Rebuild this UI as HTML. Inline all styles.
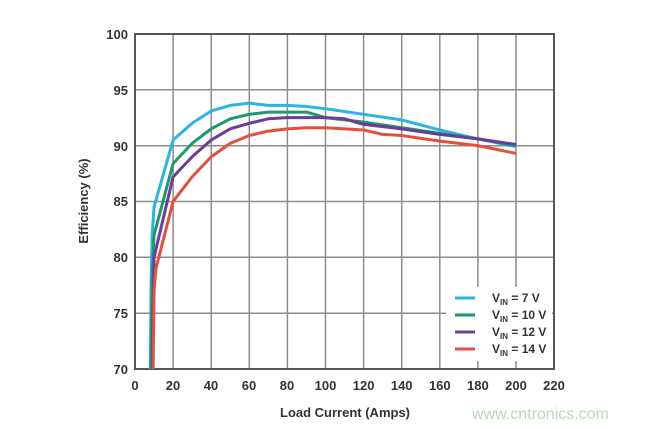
<!DOCTYPE html>
<html><head><meta charset="utf-8"><style>
html,body{margin:0;padding:0;background:#fff;}
svg{display:block;font-family:"Liberation Sans",sans-serif;}
</style></head><body>
<svg width="654" height="429" viewBox="0 0 654 429" xmlns="http://www.w3.org/2000/svg">
<rect width="654" height="429" fill="#fff"/>
<g stroke="#8c8c8c" stroke-width="1.5">
<line x1="173.1" y1="34" x2="173.1" y2="369"/><line x1="211.2" y1="34" x2="211.2" y2="369"/>
<line x1="249.3" y1="34" x2="249.3" y2="369"/><line x1="287.4" y1="34" x2="287.4" y2="369"/>
<line x1="325.5" y1="34" x2="325.5" y2="369"/><line x1="363.6" y1="34" x2="363.6" y2="369"/>
<line x1="401.7" y1="34" x2="401.7" y2="369"/><line x1="439.8" y1="34" x2="439.8" y2="369"/>
<line x1="477.9" y1="34" x2="477.9" y2="369"/><line x1="516" y1="34" x2="516" y2="369"/>
<line x1="135" y1="89.8" x2="554" y2="89.8"/><line x1="135" y1="145.7" x2="554" y2="145.7"/>
<line x1="135" y1="201.5" x2="554" y2="201.5"/><line x1="135" y1="257.3" x2="554" y2="257.3"/>
<line x1="135" y1="313.2" x2="554" y2="313.2"/>
</g>
<rect x="135" y="34" width="419" height="335" fill="none" stroke="#555" stroke-width="2"/>
<rect x="446" y="287" width="106" height="74" fill="#fff"/>
<g transform="matrix(1.905 0 0 -11.17 135 1150.9)" fill="none" stroke-width="3" stroke-linejoin="round">
<polyline vector-effect="non-scaling-stroke" stroke="#2bb5e0" points="8,70 8.5,78 9,82 10,84.5 20,90.5 30,92 40,93.1 50,93.6 60,93.8 70,93.6 80,93.6 90,93.5 100,93.3 120,92.8 140,92.3 160,91.4 180,90.6 200,89.9"/>
<polyline vector-effect="non-scaling-stroke" stroke="#1a9a6e" points="8.5,70 9,78 10,82 20,88.4 30,90.2 40,91.5 50,92.4 60,92.8 70,93 80,93 90,93 100,92.5 120,92.1 140,91.6 160,91.1 180,90.6 200,90"/>
<polyline vector-effect="non-scaling-stroke" stroke="#6a3d9a" points="9,70 10,80 20,87.2 30,89 40,90.5 50,91.5 60,92 70,92.4 80,92.5 90,92.5 100,92.5 110,92.4 120,91.9 140,91.5 160,91 180,90.6 200,90.1"/>
<polyline vector-effect="non-scaling-stroke" stroke="#e4503a" points="9.5,70 10,77 11,79 20,85 30,87.2 40,89 50,90.2 60,90.9 70,91.3 80,91.5 90,91.6 100,91.6 120,91.4 130,91 140,90.9 160,90.4 180,90 200,89.3"/>
</g>
<g stroke-width="3">
<line x1="455" y1="298" x2="475" y2="298" stroke="#2bb5e0"/>
<line x1="455" y1="315" x2="475" y2="315" stroke="#1a9a6e"/>
<line x1="455" y1="332" x2="475" y2="332" stroke="#6a3d9a"/>
<line x1="455" y1="349" x2="475" y2="349" stroke="#e4503a"/>
</g>
<g font-size="12" font-weight="bold" fill="#333">
<text x="492" y="302">V<tspan font-size="8" dy="3">IN</tspan><tspan dy="-3"> = 7 V</tspan></text>
<text x="492" y="319">V<tspan font-size="8" dy="3">IN</tspan><tspan dy="-3"> = 10 V</tspan></text>
<text x="492" y="336">V<tspan font-size="8" dy="3">IN</tspan><tspan dy="-3"> = 12 V</tspan></text>
<text x="492" y="353">V<tspan font-size="8" dy="3">IN</tspan><tspan dy="-3"> = 14 V</tspan></text>
</g>
<g font-size="13" font-weight="bold" fill="#333" text-anchor="end">
<text x="128" y="39">100</text><text x="128" y="95">95</text><text x="128" y="151">90</text>
<text x="128" y="206">85</text><text x="128" y="262">80</text><text x="128" y="318">75</text><text x="128" y="374">70</text>
</g>
<g font-size="13" font-weight="bold" fill="#333" text-anchor="middle">
<text x="135" y="390">0</text><text x="173" y="390">20</text><text x="211" y="390">40</text>
<text x="249" y="390">60</text><text x="287" y="390">80</text><text x="325.5" y="390">100</text>
<text x="363.6" y="390">120</text><text x="401.7" y="390">140</text><text x="439.8" y="390">160</text>
<text x="477.9" y="390">180</text><text x="516" y="390">200</text><text x="554" y="390">220</text>
<text x="345" y="417">Load Current (Amps)</text>
<text transform="translate(88 201) rotate(-90)">Efficiency (%)</text>
</g>
<text x="472" y="419" font-size="16" fill="#b5dcb5">www.cntronics.com</text>
</svg>
</body></html>
